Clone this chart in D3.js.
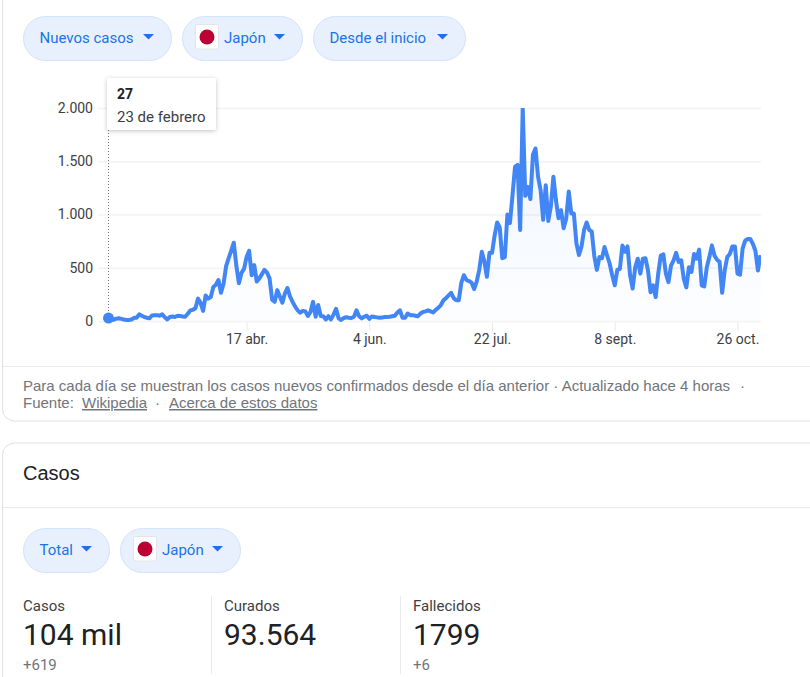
<!DOCTYPE html>
<html lang="es">
<head>
<meta charset="utf-8">
<title>Casos nuevos en Japón</title>
<script src="https://cdn.jsdelivr.net/npm/d3@7/dist/d3.min.js"></script>
<style>
  html, body { margin: 0; padding: 0; background: #fff; overflow: hidden; }
  svg { display: block; }
  text { font-family: Roboto, "Liberation Sans", Arial, sans-serif; }
</style>
</head>
<body>
<svg id="page" width="810" height="677"></svg>
<script>
// Daily new cases in Japan, first entry is 23 Feb, last is 4 Nov
const dailyCases = [
  27, 8, 12, 22, 26, 20, 14, 10, 10, 14,
  30, 30, 62, 50, 38, 30, 25, 52, 55, 55,
  50, 62, 35, 15, 38, 42, 38, 50, 48, 42,
  40, 68, 100, 105, 120, 210, 170, 95, 240, 210,
  225, 320, 340, 385, 265, 350, 515, 590, 660, 735,
  520, 355, 450, 490, 600, 660, 430, 525, 370, 400,
  440, 480, 455, 400, 200, 180, 290, 230, 172, 260,
  310, 230, 180, 135, 100, 78, 95, 90, 47, 85,
  180, 40, 150, 47, 45, 15, 45, 15, 60, 115,
  25, 10, 28, 35, 30, 28, 40, 100, 45, 25,
  40, 50, 20, 42, 38, 34, 30, 32, 38, 38,
  40, 45, 50, 80, 100, 30, 30, 70, 55, 55,
  50, 45, 70, 85, 90, 100, 90, 80, 105, 125,
  150, 195, 215, 240, 265, 215, 195, 195, 360, 430,
  385, 375, 360, 300, 370, 480, 650, 560, 415, 640,
  640, 800, 925, 880, 590, 600, 1000, 920, 1180, 1450,
  1465, 855, 2000, 1175, 1260, 1145, 1560, 1620, 1355, 1230,
  950, 1275, 940, 1075, 1355, 1135, 965, 1040, 870, 960,
  1215, 1010, 1010, 730, 620, 700, 855, 925, 855, 840,
  610, 480, 600, 590, 695, 615, 540, 430, 335, 480,
  490, 710, 650, 700, 430, 305, 505, 585, 445, 585,
  590, 475, 270, 335, 225, 445, 615, 625, 445, 365,
  520, 570, 640, 555, 570, 395, 315, 505, 460, 630,
  585, 670, 335, 325, 505, 600, 710, 615, 575, 555,
  265, 475, 600, 630, 700, 700, 445, 435, 680, 755,
  770, 770, 725, 660, 475, 619
];
const firstDay = new Date(Date.UTC(2020, 1, 23));
const yTicks = [0, 500, 1000, 1500, 2000];
const xTickDates = [
  new Date(Date.UTC(2020, 3, 17)),
  new Date(Date.UTC(2020, 5, 4)),
  new Date(Date.UTC(2020, 6, 22)),
  new Date(Date.UTC(2020, 8, 8)),
  new Date(Date.UTC(2020, 9, 26))
];
const xTickLabels = ["17 abr.", "4 jun.", "22 jul.", "8 sept.", "26 oct."];

const topFilters = [
  { label: "Nuevos casos", x: 23, w: 149, flag: false },
  { label: "Japón", x: 182, w: 121, flag: true },
  { label: "Desde el inicio", x: 313, w: 153, flag: false }
];
const lowerFilters = [
  { label: "Total", x: 23, w: 87, flag: false },
  { label: "Japón", x: 120, w: 121, flag: true }
];
const stats = [
  { name: "Casos", value: "104 mil", change: "+619", x: 23 },
  { name: "Curados", value: "93.564", change: "", x: 224 },
  { name: "Fallecidos", value: "1799", change: "+6", x: 413 }
];
const statDividers = [211, 400];
const highlightIndex = 0;
const highlightDate = "23 de febrero";

const svg = d3.select("#page");
const defs = svg.append("defs");

const esLocale = d3.formatLocale({ decimal: ",", thousands: ".", grouping: [3], currency: ["", "€"] });
const fmt = esLocale.format(",d");

// Shadow under the tooltip card
const shadow = defs.append("filter").attr("id", "cardShadow")
  .attr("x", "-20%").attr("y", "-20%").attr("width", "140%").attr("height", "150%");
shadow.append("feDropShadow").attr("dx", 0).attr("dy", 1).attr("stdDeviation", 2)
  .attr("flood-color", "#3c4043").attr("flood-opacity", 0.32);

// Soft wash beneath the curve
const wash = defs.append("linearGradient").attr("id", "wash")
  .attr("x1", 0).attr("x2", 0).attr("y1", 0).attr("y2", 1)
  .attr("gradientUnits", "objectBoundingBox");
wash.append("stop").attr("offset", "0%").attr("stop-color", "#4285f4").attr("stop-opacity", 0.1);
wash.append("stop").attr("offset", "100%").attr("stop-color", "#4285f4").attr("stop-opacity", 0.01);

// Card outlines
const border = "#dfe1e5";
svg.append("path").attr("fill", "none").attr("stroke", border)
  .attr("d", "M2.5,-2 V409 a12,12 0 0 0 12,12 H812");
svg.append("line").attr("x1", 3).attr("x2", 810).attr("y1", 366.5).attr("y2", 366.5).attr("stroke", "#e8eaed");
svg.append("path").attr("fill", "none").attr("stroke", border)
  .attr("d", "M2.5,680 V455 a12,12 0 0 1 12,-12 H812");
svg.append("line").attr("x1", 3).attr("x2", 810).attr("y1", 507.5).attr("y2", 507.5).attr("stroke", "#e8eaed");

// Pill-shaped dropdowns
function drawPills(list, top) {
  const h = 45;
  const g = svg.append("g").selectAll("g").data(list).join("g")
    .attr("transform", d => `translate(${d.x},${top})`);
  g.append("rect").attr("x", 0.5).attr("y", 0.5).attr("width", d => d.w - 1).attr("height", h - 1)
    .attr("rx", 22).attr("fill", "#e8f0fe").attr("stroke", "#d2e3fc");
  const flags = g.filter(d => d.flag);
  flags.append("rect").attr("x", 13.5).attr("y", 8.5).attr("width", 23).attr("height", 24.5).attr("rx", 2)
    .attr("fill", "#fff").attr("stroke", "#e4e4e4");
  flags.append("circle").attr("cx", 25).attr("cy", 21).attr("r", 7.5).attr("fill", "#bc0033");
  g.append("text").attr("x", d => d.flag ? 42 : 16.5).attr("y", 27)
    .attr("font-size", 15).attr("fill", "#1a73e8").text(d => d.label);
  g.append("path").attr("fill", "#1a73e8")
    .attr("d", d => `M${d.w - 29},18 h11 l-5.5,5.5 z`);
}
drawPills(topFilters, 16);
drawPills(lowerFilters, 528);

// Chart scales
const dayDates = dailyCases.map((_, i) => d3.utcDay.offset(firstDay, i));
const x = d3.scaleUtc().domain([firstDay, dayDates[dayDates.length - 1]]).range([108.5, 760.5]);
const y = d3.scaleLinear().domain([0, 2000]).range([321, 108]);

// Horizontal gridlines and value labels
const yAxis = svg.append("g").attr("transform", "translate(98,0)")
  .call(d3.axisLeft(y).tickValues(yTicks).tickSize(-663).tickPadding(5).tickFormat(fmt));
yAxis.select(".domain").remove();
yAxis.selectAll("line").attr("stroke", "#f1f3f4").attr("stroke-width", 1.5);
yAxis.selectAll("text").attr("font-size", 14).attr("fill", "#3c4043")
  .style("font-family", "Roboto, sans-serif");

// Date labels
const xAxis = svg.append("g").attr("transform", "translate(0,322)")
  .call(d3.axisBottom(x).tickValues(xTickDates).tickSize(9).tickPadding(3)
    .tickFormat((d, i) => xTickLabels[i]));
xAxis.select(".domain").remove();
xAxis.selectAll("line").attr("stroke", "#e8eaed");
xAxis.selectAll("text").attr("font-size", 14).attr("fill", "#3c4043")
  .style("font-family", "Roboto, sans-serif");

// Curve and its wash
const area = d3.area().x((d, i) => x(dayDates[i])).y0(y(0)).y1(d => y(d));
const line = d3.line().x((d, i) => x(dayDates[i])).y(d => y(d));
defs.append("clipPath").attr("id", "plotClip").append("rect")
  .attr("x", 100).attr("y", 108).attr("width", 661).attr("height", 225);
const plot = svg.append("g").attr("clip-path", "url(#plotClip)");
plot.append("path").datum(dailyCases).attr("d", area).attr("fill", "url(#wash)");
plot.append("path").datum(dailyCases).attr("d", line).attr("fill", "none")
  .attr("stroke", "#4285f4").attr("stroke-width", 4).attr("stroke-linejoin", "round");

// Highlighted first day: marker, guide and tooltip
const hx = x(dayDates[highlightIndex]);
const hy = y(dailyCases[highlightIndex]);
svg.append("line").attr("x1", hx).attr("x2", hx).attr("y1", 130).attr("y2", hy)
  .attr("stroke", "#70757a").attr("stroke-dasharray", "1 2");
svg.append("circle").attr("cx", hx).attr("cy", hy).attr("r", 5.5).attr("fill", "#4285f4");
const tip = svg.append("g");
tip.append("rect").attr("x", 107).attr("y", 78).attr("width", 109).attr("height", 52).attr("rx", 2)
  .attr("fill", "#fff").attr("filter", "url(#cardShadow)");
tip.append("text").attr("x", 117).attr("y", 99).attr("font-size", 14).attr("font-weight", 700)
  .attr("fill", "#202124").text(fmt(dailyCases[highlightIndex]));
tip.append("text").attr("x", 117).attr("y", 122).attr("font-size", 15).attr("fill", "#3c4043")
  .text(highlightDate);

// Footnote under the chart
const noteFont = '"Liberation Sans", Arial, sans-serif';
const note = svg.append("g").attr("font-size", 15).attr("fill", "#70757a");
const noteText = (tx, ty, s, underlined) => note.append("text").attr("x", tx).attr("y", ty)
  .style("font-family", noteFont).attr("text-decoration", underlined ? "underline" : null).text(s);
noteText(23, 391, "Para cada día se muestran los casos nuevos confirmados desde el día anterior · Actualizado hace 4 horas");
noteText(740, 391, "·");
noteText(23, 408, "Fuente:");
noteText(82, 408, "Wikipedia", true);
noteText(155, 408, "·");
noteText(169, 408, "Acerca de estos datos", true);

// Second card
svg.append("text").attr("x", 23).attr("y", 480).attr("font-size", 20).attr("fill", "#202124")
  .style("font-family", noteFont).text("Casos");

svg.append("g").selectAll("line").data(statDividers).join("line")
  .attr("x1", d => d + 0.5).attr("x2", d => d + 0.5).attr("y1", 596).attr("y2", 674)
  .attr("stroke", "#e8eaed");
const stat = svg.append("g").selectAll("g").data(stats).join("g")
  .attr("transform", d => `translate(${d.x},0)`);
stat.append("text").attr("y", 611).attr("font-size", 15).attr("fill", "#3c4043").text(d => d.name);
stat.append("text").attr("y", 645).attr("font-size", 30).attr("fill", "#202124").text(d => d.value);
stat.append("text").attr("y", 670).attr("font-size", 15).attr("fill", "#70757a").text(d => d.change);
</script>
</body>
</html>
